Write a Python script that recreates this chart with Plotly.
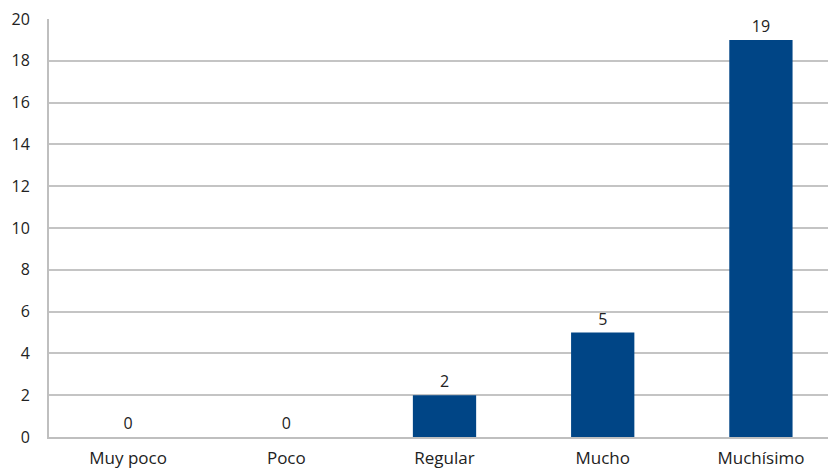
import plotly.graph_objects as go

categories = ["Muy poco", "Poco", "Regular", "Mucho", "Muchísimo"]
values = [0, 0, 2, 5, 19]
y_ticks = list(range(0, 21, 2))

fig = go.Figure(go.Bar(
    x=categories, y=values, width=0.4,
    marker=dict(color="#004586", line=dict(width=0)),
    text=[str(v) for v in values], textposition="outside",
    textfont=dict(family="Open Sans, Liberation Sans, sans-serif", size=16, color="#222"),
    cliponaxis=False,
))

fig.update_layout(
    width=828, height=470,
    margin=dict(l=49, r=0, t=19, b=33),
    paper_bgcolor="white", plot_bgcolor="white",
    showlegend=False,
    font=dict(family="Open Sans, Liberation Sans, sans-serif", size=14, color="#222"),
    xaxis=dict(range=[-0.5, 4.424], showgrid=False, showline=True, linecolor="#bfbfbf",
               linewidth=2, ticks="", ticklabelstandoff=5, tickfont=dict(size=17),
               automargin=False),
    yaxis=dict(range=[0, 20], tickvals=y_ticks, showgrid=True, gridcolor="#c4c4c4",
               gridwidth=2, showline=True, linecolor="#bfbfbf", linewidth=2,
               zeroline=False, ticks="", ticklabelstandoff=14, tickfont=dict(size=16),
               automargin=False),
)

fig.write_html("out.html")
